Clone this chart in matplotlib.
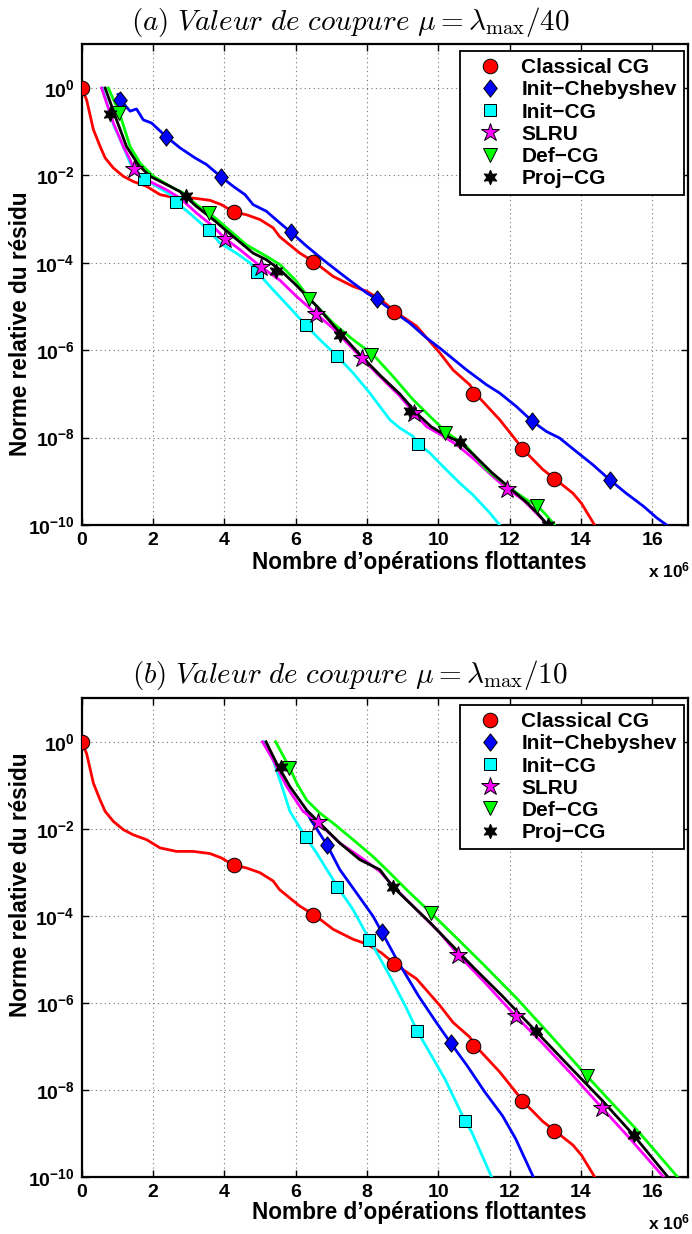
import matplotlib
matplotlib.use("Agg")
import matplotlib.pyplot as plt
import numpy as np
from matplotlib.ticker import NullLocator

plt.rcParams.update({
    "font.family": ["Liberation Sans", "DejaVu Sans"],
    "font.weight": "bold",
    "mathtext.fontset": "custom",
    "mathtext.rm": "Liberation Sans:bold",
    "mathtext.it": "Liberation Sans:bold:italic",
    "mathtext.bf": "Liberation Sans:bold",
    "mathtext.sf": "Liberation Sans:bold",
})

# x : millions d'opérations flottantes, e : log10 de la norme relative du résidu
# ---- Classical CG (identique dans les deux panneaux) ----
cg_x = [0, 0.14, 0.33, 0.52, 0.66, 0.89, 1.17, 1.45, 1.82, 2.2, 2.66, 3.13, 3.6, 3.92,
        4.27, 4.62, 5.0, 5.37, 5.55, 6.12, 6.54, 7.05, 7.61, 7.99, 8.4, 8.78, 9.39, 10.04,
        10.41, 10.88, 11.05, 11.72, 12.09, 12.39, 12.93, 13.29, 13.77, 14.01, 14.38]
cg_e = [0, -0.27, -0.95, -1.34, -1.6, -1.83, -2.02, -2.14, -2.25, -2.44, -2.52, -2.52, -2.57, -2.67,
        -2.84, -2.9, -3.01, -3.2, -3.4, -3.78, -3.99, -4.31, -4.54, -4.65, -4.85, -5.11, -5.45, -6.06,
        -6.45, -6.79, -7.0, -7.59, -7.97, -8.28, -8.73, -8.96, -9.27, -9.5, -10.0]
cg_mx = [0, 4.26, 6.5, 8.75, 10.98, 12.36, 13.25]
cg_me = [0, -2.84, -3.99, -5.12, -7.0, -8.27, -8.95]

# ---- (a) mu = lambda_max / 40 ----
a_cheb_x = [1.02, 1.09, 1.36, 1.54, 1.73, 1.96, 2.38, 2.76, 3.18, 3.5, 3.92, 4.25, 4.58, 4.81,
            5.18, 5.56, 5.87, 6.31, 6.77, 7.24, 7.61, 7.99, 8.27, 8.73, 9.2, 9.67, 10.04, 10.79,
            11.35, 11.72, 12.19, 12.64, 13.03, 13.4, 13.87, 14.33, 14.8, 15.26, 15.75, 16.13, 16.4]
a_cheb_e = [-0.15, -0.28, -0.53, -0.48, -0.73, -0.8, -1.12, -1.37, -1.6, -1.75, -2.04, -2.25, -2.44, -2.67,
            -2.82, -3.09, -3.3, -3.62, -3.93, -4.23, -4.46, -4.69, -4.83, -5.11, -5.38, -5.72, -5.95, -6.45,
            -6.79, -6.98, -7.29, -7.63, -7.86, -8.01, -8.32, -8.62, -8.96, -9.27, -9.57, -9.84, -10.0]
a_cheb_mx = [1.09, 2.38, 3.92, 5.87, 8.27, 12.64, 14.8]
a_cheb_me = [-0.28, -1.12, -2.04, -3.3, -4.83, -7.63, -8.96]

a_icg_x = [0.58, 0.9, 1.2, 1.36, 1.75, 2.1, 2.48, 2.66, 3.13, 3.57, 3.88, 4.34, 4.72, 4.92, 5.37,
           5.84, 6.28, 6.68, 7.17, 7.61, 8.08, 8.64, 8.92, 9.29, 9.43, 9.76, 10.13, 10.6, 10.97,
           11.44, 11.72]
a_icg_e = [0, -0.85, -1.4, -1.72, -2.08, -2.25, -2.44, -2.61, -2.94, -3.26, -3.55, -3.78, -4.0, -4.21, -4.62,
           -5.03, -5.42, -5.76, -6.14, -6.52, -6.98, -7.59, -7.78, -7.97, -8.14, -8.35, -8.66, -9.04, -9.31,
           -9.72, -10.0]
a_icg_mx = [1.75, 2.66, 3.57, 4.92, 6.28, 7.17, 9.43]
a_icg_me = [-2.08, -2.61, -3.26, -4.21, -5.42, -6.14, -8.14]

a_slru_x = [0.56, 0.89, 1.17, 1.36, 1.46, 1.82, 2.38, 2.76, 3.22, 3.69, 4.03, 4.44, 5.04, 5.56, 6.0,
            6.58, 7.05, 7.85, 8.36, 8.92, 9.33, 9.67, 10.04, 10.51, 10.97, 11.53, 11.93, 12.37, 12.75, 13.07]
a_slru_e = [0, -0.8, -1.34, -1.64, -1.86, -2.1, -2.33, -2.52, -2.86, -3.17, -3.45, -3.7, -4.1, -4.4, -4.75,
            -5.17, -5.5, -6.18, -6.6, -7.05, -7.44, -7.75, -7.92, -8.16, -8.47, -8.89, -9.17, -9.42, -9.73, -10.0]
a_slru_mx = [1.46, 4.03, 5.04, 6.58, 7.85, 9.33, 11.93]
a_slru_me = [-1.86, -3.45, -4.1, -5.17, -6.18, -7.44, -9.17]

a_def_x = [0.75, 1.06, 1.36, 1.64, 2.01, 2.57, 2.85, 3.22, 3.58, 4.07, 4.62, 5.18, 5.56, 6.0, 6.4,
           7.05, 7.61, 8.17, 8.73, 9.29, 9.76, 10.23, 10.79, 11.35, 12.0, 12.47, 12.79, 13.0, 13.26]
a_def_e = [0, -0.57, -1.34, -1.72, -2.02, -2.29, -2.4, -2.67, -2.86, -3.2, -3.59, -3.85, -4.04, -4.4, -4.83,
           -5.38, -5.76, -6.1, -6.6, -7.13, -7.51, -7.88, -8.2, -8.73, -9.15, -9.42, -9.57, -9.75, -10.0]
a_def_mx = [1.06, 3.58, 6.38, 8.12, 10.2, 12.76]
a_def_me = [-0.57, -2.86, -4.82, -6.12, -7.89, -9.57]

a_proj_x = [0.66, 0.98, 1.26, 1.59, 1.92, 2.48, 2.76, 3.22, 3.69, 4.25, 4.81, 5.18, 5.56, 6.0, 6.6,
            7.24, 7.8, 8.4, 8.92, 9.4, 9.8, 10.2, 10.6, 11.0, 11.5, 12.0, 12.5, 12.8, 13.07]
a_proj_e = [0, -0.73, -1.34, -1.76, -2.02, -2.25, -2.37, -2.71, -3.01, -3.4, -3.78, -3.93, -4.16, -4.5, -5.0,
            -5.6, -6.1, -6.6, -7.0, -7.45, -7.75, -7.95, -8.1, -8.4, -8.8, -9.15, -9.5, -9.75, -10.0]
a_proj_mx = [0.8, 2.92, 5.44, 7.24, 9.2, 10.6, 13.07]
a_proj_me = [-0.6, -2.47, -4.18, -5.65, -7.38, -8.09, -10.0]

# ---- (b) mu = lambda_max / 10 ----
b_cheb_x = [6.3, 6.43, 6.88, 7.24, 7.71, 8.17, 8.42, 8.83, 9.45, 9.95, 10.35, 10.81, 11.31, 11.8, 12.17, 12.66]
b_cheb_e = [-1.6, -1.8, -2.37, -2.94, -3.48, -4.01, -4.38, -5.0, -5.85, -6.46, -6.93, -7.45, -8.06, -8.6, -9.13, -10.0]
b_cheb_mx = [6.88, 8.42, 10.35]
b_cheb_me = [-2.37, -4.38, -6.93]

b_icg_x = [5.1, 5.37, 5.65, 5.84, 6.28, 6.59, 7.17, 7.61, 8.07, 8.59, 9.08, 9.41, 10.19, 10.75, 10.94, 11.49]
b_icg_e = [0, -0.42, -1.11, -1.6, -2.19, -2.56, -3.33, -3.86, -4.55, -5.31, -6.08, -6.65, -7.76, -8.72, -8.98, -10.0]
b_icg_mx = [6.28, 7.17, 8.07, 9.41, 10.75]
b_icg_me = [-2.19, -3.33, -4.55, -6.65, -8.72]

b_slru_x = [5.07, 5.37, 5.75, 6.21, 6.62, 7.24, 7.8, 8.36, 8.83, 9.39, 10.04, 10.56, 11.31, 12.17, 12.91,
            13.78, 14.58, 15.38, 16.31]
b_slru_e = [0, -0.42, -1.03, -1.6, -1.85, -2.33, -2.64, -2.98, -3.4, -3.86, -4.39, -4.9, -5.54, -6.31, -6.92,
            -7.68, -8.41, -9.13, -10.0]
b_slru_mx = [6.62, 10.56, 12.17, 14.58]
b_slru_me = [-1.85, -4.9, -6.31, -8.41]

b_def_x = [5.44, 5.84, 6.03, 6.31, 6.68, 7.05, 7.61, 8.17, 8.55, 9.11, 9.8, 10.5, 11.3, 12.2, 13.2, 14.16,
           14.94, 15.63, 16.7]
b_def_e = [0, -0.61, -0.95, -1.34, -1.64, -1.87, -2.25, -2.64, -2.94, -3.4, -3.94, -4.5, -5.15, -5.9, -6.8, -7.68,
           -8.37, -8.98, -10.0]
b_def_mx = [5.82, 9.8, 14.16]
b_def_me = [-0.61, -3.94, -7.68]

b_proj_x = [5.17, 5.47, 5.84, 6.31, 6.77, 7.24, 7.8, 8.36, 8.72, 9.29, 9.76, 10.23, 11.0, 11.8, 12.73, 13.6,
            14.6, 15.48, 16.43]
b_proj_e = [0, -0.5, -1.03, -1.57, -1.95, -2.33, -2.71, -2.94, -3.33, -3.78, -4.15, -4.55, -5.2, -5.85, -6.65, -7.4,
            -8.25, -9.05, -10.0]
b_proj_mx = [5.59, 8.72, 12.73, 15.48]
b_proj_me = [-0.57, -3.33, -6.65, -9.05]

names = ["Classical CG", "Init\u2212Chebyshev", "Init\u2212CG", "SLRU", "Def\u2212CG", "Proj\u2212CG"]
colors = ["#ff0000", "#0000ff", "#00ffff", "#ff00ff", "#00ff00", "#000000"]
diamond = [(0, 1), (0.78, 0), (0, -1), (-0.78, 0), (0, 1)]
markers = ["o", diamond, "s", "*", "v", (6, 1, 0)]
msizes = [10.5, 12.5, 8.5, 13.5, 10.5, 10.5]
xticks = [0, 2, 4, 6, 8, 10, 12, 14, 16]
yexp = [0, -2, -4, -6, -8, -10]

panels = [
    dict(title=r"$\mathit{(a)\ Valeur\ de\ coupure}\ \mu = \lambda_{\max}/40$",
         lines=[(cg_x, cg_e), (a_cheb_x, a_cheb_e), (a_icg_x, a_icg_e),
                (a_slru_x, a_slru_e), (a_def_x, a_def_e), (a_proj_x, a_proj_e)],
         marks=[(cg_mx, cg_me), (a_cheb_mx, a_cheb_me), (a_icg_mx, a_icg_me),
                (a_slru_mx, a_slru_me), (a_def_mx, a_def_me), (a_proj_mx, a_proj_me)],
         top=44.3, bottom=525.0, title_y=22, xlab_y=563, x6_y=570, ylab_y=324),
    dict(title=r"$\mathit{(b)\ Valeur\ de\ coupure}\ \mu = \lambda_{\max}/10$",
         lines=[(cg_x, cg_e), (b_cheb_x, b_cheb_e), (b_icg_x, b_icg_e),
                (b_slru_x, b_slru_e), (b_def_x, b_def_e), (b_proj_x, b_proj_e)],
         marks=[(cg_mx, cg_me), (b_cheb_mx, b_cheb_me), (b_icg_mx, b_icg_me),
                (b_slru_mx, b_slru_me), (b_def_mx, b_def_me), (b_proj_mx, b_proj_me)],
         top=698.3, bottom=1176.7, title_y=675, xlab_y=1212, x6_y=1222, ylab_y=885),
]

W, H = 692, 1234
fig = plt.figure(figsize=(W / 100, H / 100), dpi=100)
left, right = 81.6, 688.0

for p in panels:
    ax = fig.add_axes([left / W, 1 - p["bottom"] / H, (right - left) / W, (p["bottom"] - p["top"]) / H])
    ax.set_yscale("log")
    # lignes (ordre : rouge, bleu, cyan, magenta, vert, noir)
    for (x, e), c in zip(p["lines"], colors):
        ax.plot(x, 10.0 ** np.asarray(e), color=c, lw=2.0, zorder=3)
    for (x, e), c, m, ms, name in zip(p["marks"], colors, markers, msizes, names):
        ax.plot(x, 10.0 ** np.asarray(e), ls="none", marker=m, ms=ms, mfc=c, mec="k",
                mew=0.7, label=name, zorder=4)

    ax.set_xlim(0, 17)
    ax.set_ylim(1e-10, 1e1)
    ax.set_xticks(xticks, [str(t) for t in xticks])
    ax.set_yticks([10.0 ** e for e in yexp], [rf"$10^{{{e}}}$" for e in yexp])
    ax.yaxis.set_minor_locator(NullLocator())
    ax.tick_params(direction="in", length=5, width=1, top=True, right=True,
                   labelsize=14, pad=5)
    ax.grid(True, ls=(0, (1, 3)), color="0.45", lw=0.8)
    for s in ax.spines.values():
        s.set_linewidth(1.6)

    leg = ax.legend(loc="upper right", bbox_to_anchor=(0.9934, 0.986), borderaxespad=0,
                    fontsize=15, numpoints=1, handlelength=2.2, handletextpad=0.4,
                    labelspacing=0.15, borderpad=0.35, fancybox=False, framealpha=1,
                    edgecolor="k")
    leg.get_frame().set_linewidth(1.3)

    fig.text(350 / W, 1 - p["title_y"] / H, p["title"], ha="center", va="center",
             fontsize=21, math_fontfamily="cm")
    fig.text(419 / W, 1 - p["xlab_y"] / H, "Nombre d\u2019opérations flottantes",
             ha="center", va="center", fontsize=16.3, fontweight="bold")
    fig.text(690 / W, 1 - p["x6_y"] / H, r"x 10$^6$", ha="right", va="center",
             fontsize=12.5, fontweight="bold")
    fig.text(21 / W, 1 - p["ylab_y"] / H, "Norme relative du résidu", rotation=90,
             ha="center", va="center", fontsize=16.3, fontweight="bold")

fig.savefig("out.png", dpi=100)
